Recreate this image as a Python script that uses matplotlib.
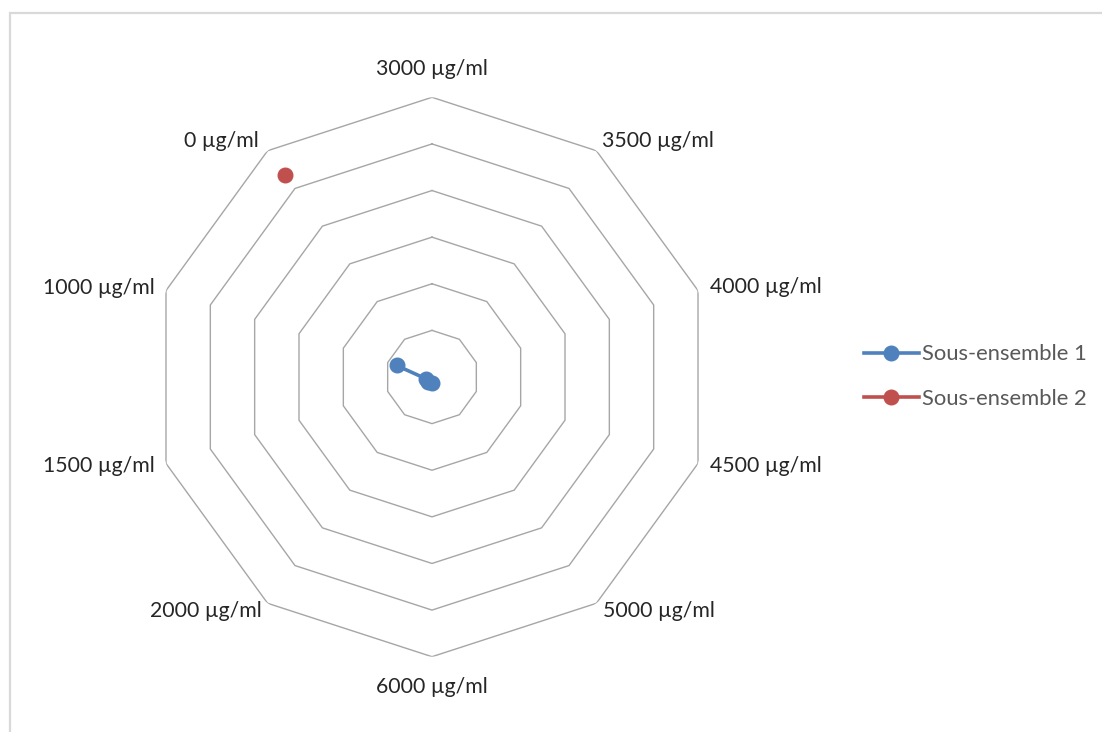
import numpy as np
import matplotlib
matplotlib.use('Agg')
import matplotlib.pyplot as plt
from matplotlib.lines import Line2D
from matplotlib.patches import Rectangle

plt.rcParams['font.family'] = ['Lato', 'DejaVu Sans']

# categories in the order they run clockwise from the top
categories = ['3000 µg/ml', '3500 µg/ml', '4000 µg/ml', '4500 µg/ml', '5000 µg/ml',
              '6000 µg/ml', '2000 µg/ml', '1500 µg/ml', '1000 µg/ml', '0 µg/ml']
series1 = [np.nan, np.nan, np.nan, np.nan, np.nan, 0.13, 0.13, 0.13, 0.80, np.nan]
series2 = [np.nan, np.nan, np.nan, np.nan, np.nan, np.nan, np.nan, np.nan, np.nan, 5.35]
series_names = ['Sous-ensemble 1', 'Sous-ensemble 2']
ring_levels = [1, 2, 3, 4, 5, 6]

BLUE = '#4f81bd'
RED = '#c0504d'
GRID = '#a6a6a6'

W, H = 1102, 732
fig = plt.figure(figsize=(W / 100, H / 100), dpi=100)

# chart area border (only top/left edge visible)
fig.patches.append(Rectangle((10 / W, -0.1), 1.2, 1 - 13 / H + 0.1, transform=fig.transFigure,
                             fill=False, edgecolor='#d9d9d9', lw=1.6))

cx, cy, R = 432, 377, 279.7
ax = fig.add_axes([(cx - R) / W, (H - cy - R) / H, 2 * R / W, 2 * R / H], projection='polar')
ax.set_theta_zero_location('N')
ax.set_theta_direction(-1)
ax.set_ylim(0, ring_levels[-1])
ax.grid(False)
ax.spines['polar'].set_visible(False)
ax.set_xticks([])
ax.set_yticks([])
ax.patch.set_alpha(0)

n = len(categories)
theta = np.arange(n) * 2 * np.pi / n
closed = np.append(theta, theta[0])

for lvl in ring_levels:
    ax.plot(closed, [lvl] * (n + 1), color=GRID, lw=1.0, zorder=1)

ax.plot(theta, series1, color=BLUE, lw=2.6, marker='o', ms=10.5, zorder=3)
ax.plot(theta, series2, color=RED, lw=2.6, marker='o', ms=10.5, zorder=3)

# category labels, offsets in pixels from each outer vertex
offsets = [(0, 28, 'center'), (6, 10, 'left'), (12, 4, 'left'), (12, -3, 'left'),
           (7, -8, 'left'), (0, -30, 'center'), (-6, -8, 'right'), (-11, -3, 'right'),
           (-11, 3, 'right'), (-9, 10, 'right')]
for t, lab, (dx, dy, ha) in zip(theta, categories, offsets):
    ax.annotate(lab, xy=(t, ring_levels[-1]), xytext=(dx * 0.72, dy * 0.72),
                textcoords='offset points', ha=ha, va='center', fontsize=15.3,
                color='#262626', annotation_clip=False)

handles = [Line2D([], [], color=BLUE, lw=2.6, marker='o', ms=10.5),
           Line2D([], [], color=RED, lw=2.6, marker='o', ms=10.5)]
fig.legend(handles, series_names, loc='center left', bbox_to_anchor=(864 / W, 1 - 376.5 / H),
           frameon=False, fontsize=15.8, labelcolor='#595959', handlelength=2.5,
           handletextpad=0.15, labelspacing=1.1, borderpad=0, borderaxespad=0)

fig.savefig('out.png', dpi=100, facecolor='white')
